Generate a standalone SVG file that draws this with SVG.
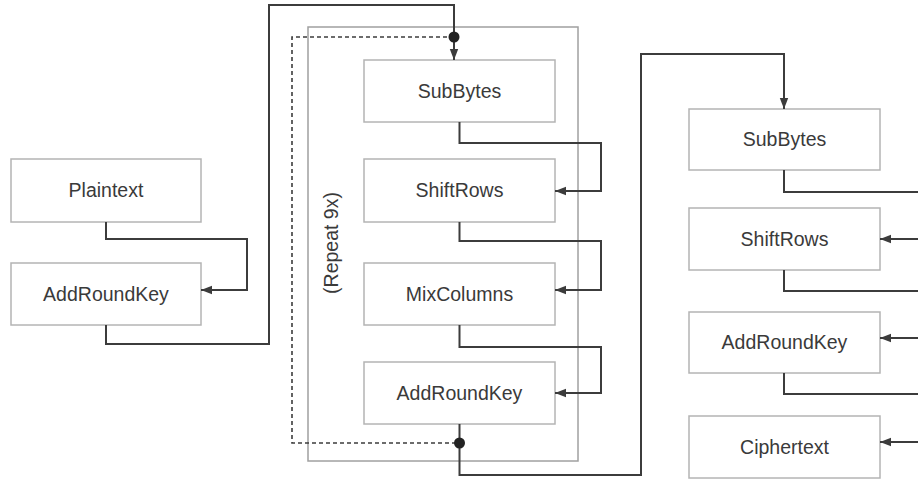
<svg xmlns="http://www.w3.org/2000/svg" width="918" height="479" viewBox="0 0 918 479">
<style>
.box{fill:#fff;stroke:#b4b4b4;stroke-width:1.5}
.lbl{font-family:"Liberation Sans",Arial,sans-serif;font-size:19.5px;fill:#3a3a3a;text-anchor:middle}
.con{fill:none;stroke:#3c3c3c;stroke-width:2}
.arr{marker-end:url(#ah)}
.dash{fill:none;stroke:#3c3c3c;stroke-width:1.6;stroke-dasharray:4 3}
.dot{fill:#222}
.rep{fill:none;stroke:#a0a0a0;stroke-width:1.5}
</style>
<defs>
<marker id="ah" markerUnits="userSpaceOnUse" markerWidth="12" markerHeight="10" viewBox="0 0 12 10" refX="11" refY="5" orient="auto">
<path d="M0,0.8 L11,5 L0,9.2 Z" fill="#3c3c3c"/>
</marker>
</defs>
<rect width="918" height="479" fill="#fff"/>
<g id="repeat">
<rect class="rep" x="308" y="27" width="270" height="434"/>
<text class="lbl" transform="translate(338,243) rotate(-90)">(Repeat 9x)</text>
</g>
<g id="plaintext"><rect class="box" x="11" y="159" width="190" height="63"/><text class="lbl" x="106" y="197">Plaintext</text></g>
<g id="addroundkey0"><rect class="box" x="11" y="263" width="190" height="62"/><text class="lbl" x="106" y="301">AddRoundKey</text></g>
<g id="subbytes1"><rect class="box" x="364" y="60" width="191" height="62"/><text class="lbl" x="459.5" y="98">SubBytes</text></g>
<g id="shiftrows1"><rect class="box" x="364" y="159" width="191" height="63"/><text class="lbl" x="459.5" y="197">ShiftRows</text></g>
<g id="mixcolumns1"><rect class="box" x="364" y="263" width="191" height="62"/><text class="lbl" x="459.5" y="301">MixColumns</text></g>
<g id="addroundkey1"><rect class="box" x="364" y="362" width="191" height="62"/><text class="lbl" x="459.5" y="400">AddRoundKey</text></g>
<g id="subbytes2"><rect class="box" x="689" y="109" width="191" height="61"/><text class="lbl" x="784.5" y="146">SubBytes</text></g>
<g id="shiftrows2"><rect class="box" x="689" y="208" width="191" height="62"/><text class="lbl" x="784.5" y="246">ShiftRows</text></g>
<g id="addroundkey2"><rect class="box" x="689" y="312" width="191" height="61"/><text class="lbl" x="784.5" y="349">AddRoundKey</text></g>
<g id="ciphertext"><rect class="box" x="689" y="416" width="191" height="62"/><text class="lbl" x="784.5" y="454">Ciphertext</text></g>
<g id="connectors">
<path class="con arr" d="M106,222 V239 H247 V290 H201"/>
<path class="con arr" d="M106,325 V344 H269 V5 H454 V60"/>
<path class="dash" d="M454,37 H292 V443 H459.5"/>
<path class="con arr" d="M459.5,122 V143 H601 V191 H555"/>
<path class="con arr" d="M459.5,222 V241 H601 V290 H555"/>
<path class="con arr" d="M459.5,325 V347 H601 V393 H555"/>
<path class="con arr" d="M459.5,424 V475 H641 V54 H784 V109"/>
<path class="con" d="M784,170 V192 H918"/>
<path class="con arr" d="M918,239 H880"/>
<path class="con" d="M784,270 V291 H918"/>
<path class="con arr" d="M918,338 H880"/>
<path class="con" d="M784,373 V394 H918"/>
<path class="con arr" d="M918,442 H880"/>
<circle class="dot" cx="454" cy="37" r="5.5"/>
<circle class="dot" cx="459.5" cy="443" r="5.5"/>
</g>
</svg>
